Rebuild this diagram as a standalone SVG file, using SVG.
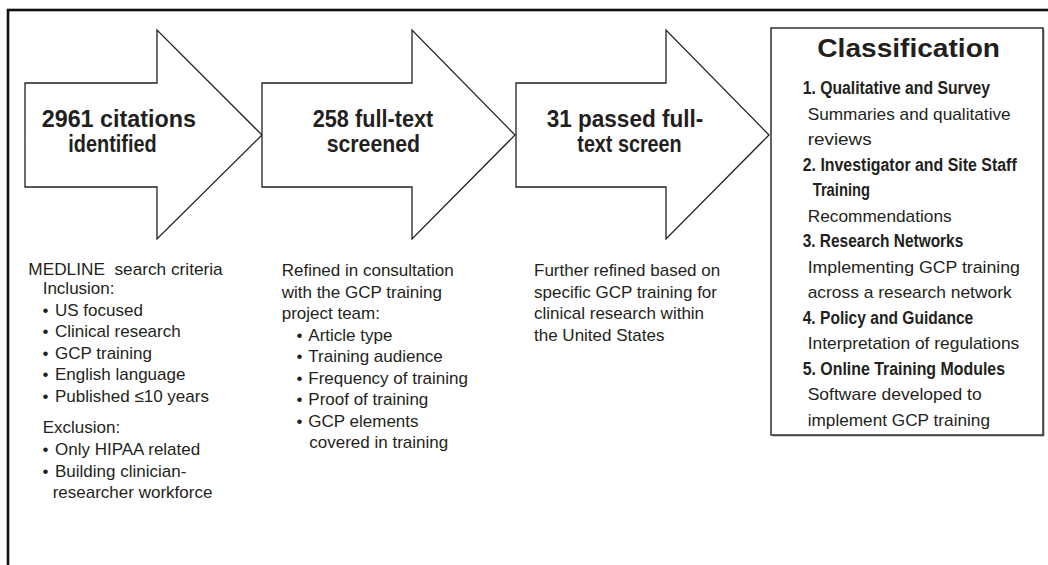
<svg xmlns="http://www.w3.org/2000/svg" width="1048" height="565" viewBox="0 0 1048 565">
<style>
  .arrow { fill: #ffffff; stroke: #222222; stroke-width: 1.3; stroke-linejoin: miter; }
  .big { font-family: "Liberation Sans", Arial, sans-serif; font-weight: bold; font-size: 23px; fill: #231f20; }
  .hd { font-family: "Liberation Sans", Arial, sans-serif; font-weight: bold; font-size: 25px; fill: #231f20; }
  .b { font-family: "Liberation Sans", Arial, sans-serif; font-weight: bold; font-size: 17.5px; fill: #231f20; }
  .r { font-family: "Liberation Sans", Arial, sans-serif; font-size: 17px; fill: #231f20; }
</style>
<rect x="0" y="0" width="1048" height="565" fill="#ffffff"/>
<rect id="frame" x="8" y="10" width="1100" height="600" fill="none" stroke="#111111" stroke-width="2.6"/>

<g id="arrow-citations">
  <polygon class="arrow" points="25,83 157,83 157,30 262,135 157,239 157,187 25,187"/>
  <text class="big" x="41.7" y="127" textLength="154.3" lengthAdjust="spacingAndGlyphs">2961 citations</text>
  <text class="big" x="68.3" y="152" textLength="88.4" lengthAdjust="spacingAndGlyphs">identified</text>
</g>

<g id="arrow-fulltext">
  <polygon class="arrow" points="262,83 412,83 412,30 515,135 412,239 412,187 262,187"/>
  <text class="big" x="312.7" y="127" textLength="120.6" lengthAdjust="spacingAndGlyphs">258 full-text</text>
  <text class="big" x="326.7" y="152" textLength="93.3" lengthAdjust="spacingAndGlyphs">screened</text>
</g>

<g id="arrow-passed">
  <polygon class="arrow" points="516,83 666,83 666,30 769,135 666,239 666,187 516,187"/>
  <text class="big" x="546.7" y="127" textLength="156.6" lengthAdjust="spacingAndGlyphs">31 passed full-</text>
  <text class="big" x="577.3" y="152" textLength="104.4" lengthAdjust="spacingAndGlyphs">text screen</text>
</g>

<g id="classification">
  <rect x="772.5" y="29.5" width="272" height="407" fill="#9a9a9a"/>
  <rect x="771" y="28" width="272" height="407" fill="#ffffff" stroke="#222222" stroke-width="1.4"/>
  <text class="hd" x="817.3" y="57" textLength="182.7" lengthAdjust="spacingAndGlyphs">Classification</text>
  <text class="b" x="802.7" y="94" textLength="187.3" lengthAdjust="spacingAndGlyphs">1. Qualitative and Survey</text>
  <text class="r" x="807.7" y="119.5" textLength="203" lengthAdjust="spacingAndGlyphs">Summaries and qualitative</text>
  <text class="r" x="807.7" y="145" textLength="64" lengthAdjust="spacingAndGlyphs">reviews</text>
  <text class="b" x="802.7" y="170.5" textLength="214" lengthAdjust="spacingAndGlyphs">2. Investigator and Site Staff</text>
  <text class="b" x="812.7" y="196" textLength="57.3" lengthAdjust="spacingAndGlyphs">Training</text>
  <text class="r" x="807.7" y="221.5" textLength="144" lengthAdjust="spacingAndGlyphs">Recommendations</text>
  <text class="b" x="802.7" y="247" textLength="160.6" lengthAdjust="spacingAndGlyphs">3. Research Networks</text>
  <text class="r" x="807.7" y="272.5" textLength="212.3" lengthAdjust="spacingAndGlyphs">Implementing GCP training</text>
  <text class="r" x="807.7" y="298" textLength="204" lengthAdjust="spacingAndGlyphs">across a research network</text>
  <text class="b" x="802.7" y="323.5" textLength="170.6" lengthAdjust="spacingAndGlyphs">4. Policy and Guidance</text>
  <text class="r" x="807.7" y="349" textLength="211.6" lengthAdjust="spacingAndGlyphs">Interpretation of regulations</text>
  <text class="b" x="802.7" y="374.5" textLength="202.3" lengthAdjust="spacingAndGlyphs">5. Online Training Modules</text>
  <text class="r" x="807.7" y="400" textLength="174" lengthAdjust="spacingAndGlyphs">Software developed to</text>
  <text class="r" x="807.7" y="425.5" textLength="182.3" lengthAdjust="spacingAndGlyphs">implement GCP training</text>
</g>

<g id="search-criteria">
  <text class="r" x="28.3" y="275" textLength="194.4" lengthAdjust="spacingAndGlyphs" xml:space="preserve">MEDLINE  search criteria</text>
  <text class="r" x="42.7" y="294">Inclusion:</text>
  <text class="r" x="42.5" y="315.5">•</text><text class="r" x="55" y="315.5">US focused</text>
  <text class="r" x="42.5" y="337">•</text><text class="r" x="55" y="337">Clinical research</text>
  <text class="r" x="42.5" y="358.5">•</text><text class="r" x="55" y="358.5">GCP training</text>
  <text class="r" x="42.5" y="380">•</text><text class="r" x="55" y="380">English language</text>
  <text class="r" x="42.5" y="401.5">•</text><text class="r" x="55" y="401.5">Published ≤10 years</text>
  <text class="r" x="42.7" y="433">Exclusion:</text>
  <text class="r" x="42.5" y="455">•</text><text class="r" x="55" y="455">Only HIPAA related</text>
  <text class="r" x="42.5" y="476.5">•</text><text class="r" x="55" y="476.5">Building clinician-</text>
  <text class="r" x="52.7" y="498">researcher workforce</text>
</g>

<g id="refined-criteria">
  <text class="r" x="281.7" y="276">Refined in consultation</text>
  <text class="r" x="281.7" y="297.5">with the GCP training</text>
  <text class="r" x="281.7" y="319">project team:</text>
  <text class="r" x="296.5" y="340.5">•</text><text class="r" x="308.3" y="340.5">Article type</text>
  <text class="r" x="296.5" y="362">•</text><text class="r" x="308.3" y="362">Training audience</text>
  <text class="r" x="296.5" y="383.5">•</text><text class="r" x="308.3" y="383.5">Frequency of training</text>
  <text class="r" x="296.5" y="405">•</text><text class="r" x="308.3" y="405">Proof of training</text>
  <text class="r" x="296.5" y="426.5">•</text><text class="r" x="308.3" y="426.5">GCP elements</text>
  <text class="r" x="309.3" y="448">covered in training</text>
</g>

<g id="us-criteria">
  <text class="r" x="534" y="276">Further refined based on</text>
  <text class="r" x="534" y="297.5">specific GCP training for</text>
  <text class="r" x="534" y="319">clinical research within</text>
  <text class="r" x="534" y="340.5">the United States</text>
</g>

<g id="connectors"></g>
</svg>
